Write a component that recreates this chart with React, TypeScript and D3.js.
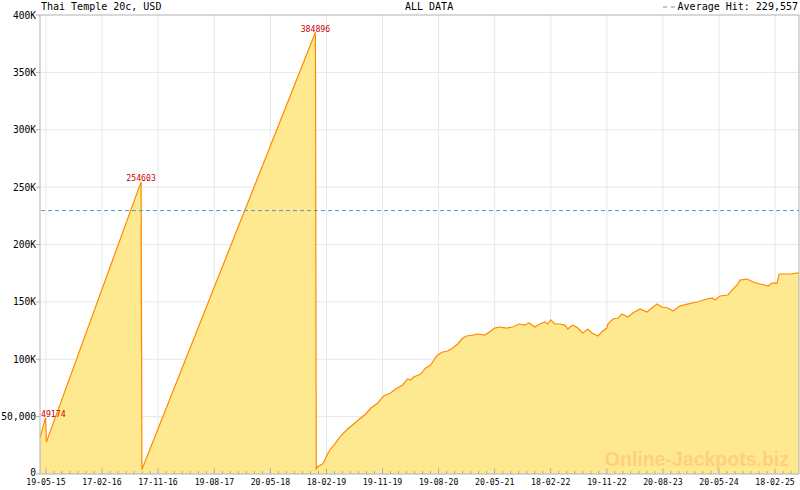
import React from 'react';
import * as d3 from 'd3';

// jackpot history
const dates: string[] = [
  '2015-04-20', '2015-05-17', '2015-05-21', '2016-08-26', '2016-08-30', '2018-12-26', '2018-12-30',
  '2019-01-05', '2019-01-29', '2019-02-08', '2019-02-23', '2019-03-10', '2019-04-03', '2019-04-28',
  '2019-06-01', '2019-07-01', '2019-08-04', '2019-08-29', '2019-09-23', '2019-10-27', '2019-11-24',
  '2019-12-28', '2020-01-22', '2020-02-25', '2020-03-20', '2020-04-04', '2020-04-19', '2020-05-23',
  '2020-06-17', '2020-07-11', '2020-07-30', '2020-08-14', '2020-09-08', '2020-10-02', '2020-10-27',
  '2020-11-20', '2020-12-15', '2021-01-03', '2021-02-02', '2021-02-26', '2021-04-01', '2021-04-25',
  '2021-05-20', '2021-06-14', '2021-07-18', '2021-08-16', '2021-09-15', '2021-10-14', '2021-11-03',
  '2021-12-02', '2021-12-26', '2022-01-20', '2022-02-03', '2022-02-18', '2022-03-10', '2022-04-03',
  '2022-04-28', '2022-05-12', '2022-06-06', '2022-06-30', '2022-07-25', '2022-08-18', '2022-09-07',
  '2022-10-06', '2022-10-30', '2022-11-19', '2022-11-24', '2022-12-18', '2023-01-12', '2023-02-01',
  '2023-03-02', '2023-03-26', '2023-04-30', '2023-06-03', '2023-06-27', '2023-07-22', '2023-08-15',
  '2023-09-14', '2023-10-08', '2023-11-11', '2023-12-16', '2024-02-03', '2024-03-22', '2024-04-16',
  '2024-04-30', '2024-05-25', '2024-07-03', '2024-07-23', '2024-08-21', '2024-08-31', '2024-10-04',
  '2024-11-03', '2024-12-07', '2025-01-15', '2025-02-03', '2025-02-28', '2025-03-10', '2025-05-02',
  '2025-06-15',
];
const values: number[] = [
  31500, 49174, 27800, 254603, 4000, 384896, 4400,
  6100, 8700, 11300, 17400, 21800, 27000, 33100,
  39200, 43600, 48800, 52300, 57500, 61900, 68000,
  70600, 74100, 77600, 82800, 81900, 84500, 87100,
  92400, 95000, 100200, 103700, 106300, 107200, 109800,
  113300, 118500, 120300, 121100, 122000, 121100, 123700,
  127200, 128100, 127200, 128100, 130700, 129800, 131600,
  128100, 130700, 132500, 130700, 134200, 130700, 130700,
  129800, 126400, 129800, 127200, 122900, 126400, 122900,
  120300, 124600, 127200, 130700, 135100, 135900, 139400,
  136800, 140300, 143800, 141200, 144700, 148100, 145500,
  144700, 142000, 146400, 148100, 149900, 152500, 153400,
  151600, 155100, 156000, 160300, 165600, 169100, 169900,
  167300, 165600, 163800, 166400, 166400, 174300, 174300,
  175200,
];
const peakValues: number[] = [49174, 254603, 384896];
const averageHit = 229557;

const xTickLabels: string[] = [
  '19-05-15', '17-02-16', '17-11-16', '19-08-17', '20-05-18', '18-02-19', '19-11-19',
  '19-08-20', '20-05-21', '18-02-22', '19-11-22', '20-08-23', '20-05-24', '18-02-25',
];
const yTicks: number[] = [0, 50000, 100000, 150000, 200000, 250000, 300000, 350000, 400000];
const yTickLabels: string[] = ['0', '50,000', '100K', '150K', '200K', '250K', '300K', '350K', '400K'];

const W = 800;
const H = 490;
const left = 40;
const right = 799;
const top = 15;
const bottom = 474;
const mono = 'DejaVu Sans Mono, monospace';

const parseIso = d3.utcParse('%Y-%m-%d');
const parseTick = d3.utcParse('%d-%m-%y');

const App: React.FC = () => {
  const points = dates.map((d, i) => ({ date: parseIso(d)!, value: values[i] }));
  const majors = xTickLabels.map((l) => parseTick(l)!);

  const x = d3
    .scaleUtc()
    .domain([parseIso('2015-04-20')!, parseIso('2025-06-15')!])
    .range([left, right]);
  const y = d3.scaleLinear().domain([0, 400000]).range([bottom, top]);

  // minor ticks: 7 steps between each labelled tick
  const minors: Date[] = [];
  majors.forEach((m, i) => {
    const next = majors[i + 1];
    const step = next ? (+next - +m) / 7 : (+m - +majors[i - 1]) / 7;
    for (let k = 1; k < 7; k++) {
      const d = new Date(+m + k * step);
      if (x(d) < right - 1) minors.push(d);
    }
  });

  const area = d3
    .area<{ date: Date; value: number }>()
    .x((d) => x(d.date))
    .y0(y(0))
    .y1((d) => y(d.value));
  const line = d3
    .line<{ date: Date; value: number }>()
    .x((d) => x(d.date))
    .y((d) => y(d.value));

  const peaks = peakValues.map((v) => points.find((p) => p.value === v)!);

  return (
    <div style={{ position: 'fixed', left: 0, top: 0 }}>
      <svg width={W} height={H} style={{ display: 'block', background: '#fff' }}>
        {/* grid */}
        {yTicks.slice(1, -1).map((t) => (
          <line key={t} x1={left} x2={right} y1={y(t)} y2={y(t)} stroke="#e8e8e8" />
        ))}
        {majors.map((m, i) => (
          <line key={i} x1={x(m)} x2={x(m)} y1={top} y2={bottom} stroke="#e8e8e8" />
        ))}

        <path d={area(points)!} fill="#fee990" />
        <path d={line(points)!} fill="none" stroke="#ff8a00" strokeWidth={1.2} />

        <line
          x1={left + 1}
          x2={right}
          y1={y(averageHit)}
          y2={y(averageHit)}
          stroke="#4a9bcf"
          strokeDasharray="4,3"
        />

        {/* watermark */}
        <text
          x={789}
          y={466}
          textAnchor="end"
          fontFamily="Liberation Sans, Arial, sans-serif"
          fontWeight="bold"
          fontSize={19.5}
          fill="#fecf7f"
        >
          Online-Jackpots.biz
        </text>

        {/* frame */}
        <rect x={left} y={top} width={right - left} height={bottom - top} fill="none" stroke="#b2b2b2" />

        {/* y axis */}
        {yTicks.map((t, i) => (
          <g key={t}>
            <line x1={left - 4} x2={left} y1={y(t)} y2={y(t)} stroke="#b2b2b2" />
            <text
              x={left - 4}
              y={t === 0 ? y(t) + 1.5 : y(t) + 3.5}
              textAnchor="end"
              fontFamily={mono}
              fontSize={9.6}
              fill="#000"
            >
              {yTickLabels[i]}
            </text>
          </g>
        ))}

        {/* x axis */}
        {minors.map((m, i) => (
          <line key={'m' + i} x1={x(m)} x2={x(m)} y1={bottom - 3} y2={bottom} stroke="#a8a8c0" />
        ))}
        {majors.map((m, i) => (
          <g key={'M' + i}>
            <line x1={x(m)} x2={x(m)} y1={bottom - 5.5} y2={bottom} stroke="#a8a8c0" />
            <text x={x(m)} y={bottom + 11} textAnchor="middle" fontFamily={mono} fontSize={8.2} fill="#000">
              {xTickLabels[i]}
            </text>
          </g>
        ))}

        {/* peak labels */}
        {peaks.map((p) => {
          const label = String(p.value);
          const w = label.length * 4.94;
          const cx = Math.max(x(p.date), left + 1 + w / 2);
          return (
            <text
              key={label}
              x={cx}
              y={y(p.value) - 0.5}
              textAnchor="middle"
              fontFamily={mono}
              fontSize={8.2}
              fill="#cc0000"
            >
              {label}
            </text>
          );
        })}

        {/* header */}
        <text x={41} y={10} fontFamily={mono} fontSize={10} fill="#000">
          Thai Temple 20c, USD
        </text>
        <text x={405} y={10} fontFamily={mono} fontSize={10} fill="#000">
          ALL DATA
        </text>
        <line x1={663} x2={677} y1={7} y2={7} stroke="#4a9bcf" strokeDasharray="4,4" />
        <text x={798} y={10} textAnchor="end" fontFamily={mono} fontSize={10} fill="#000">
          Average Hit: 229,557
        </text>
      </svg>
    </div>
  );
};

export default App;
